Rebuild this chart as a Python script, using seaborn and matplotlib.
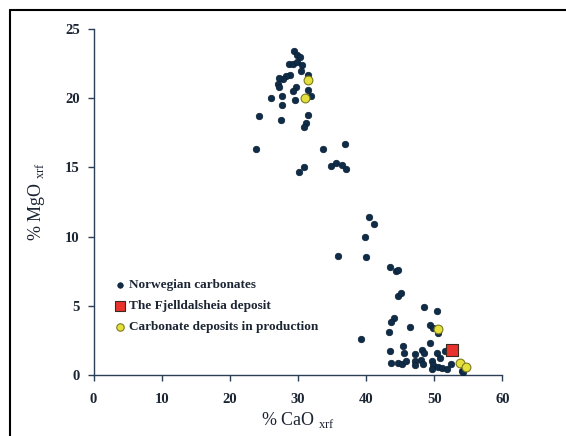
import matplotlib
matplotlib.use("Agg")
import matplotlib.pyplot as plt
import seaborn as sns
import pandas as pd

# Norwegian carbonates (CaO, MgO in %)
norw_cao = [29.4, 29.9, 30.3, 28.7, 29.3, 29.9, 30.6, 30.5, 31.5, 28.8, 28.3, 27.8,
            27.2, 27.1, 27.2, 29.7, 29.3, 31.5, 31.9, 26.0, 27.7, 29.5, 27.7, 24.3,
            27.5, 31.4, 31.2, 30.9, 23.8, 33.6, 36.9, 34.9, 35.5, 36.5, 37.1, 30.2,
            30.8,
            40.4, 41.2, 39.8, 35.9, 39.9, 43.5, 44.4, 44.7, 44.7, 45.1, 48.5,
            50.4, 44.1, 43.7, 46.5, 49.4, 49.8, 43.4, 50.6, 49.3, 45.4, 43.5, 45.6,
            47.1, 48.2, 48.5, 50.4, 51.5, 50.8, 48.1, 47.1, 43.6, 44.7, 45.2, 45.9,
            47.2, 48.4, 49.6, 49.8, 50.6, 51.1, 51.8, 52.5, 49.6, 54.0, 39.2, 54.2]
norw_mgo = [23.4, 23.1, 23.0, 22.5, 22.5, 22.6, 22.4, 22.0, 21.7, 21.7, 21.6, 21.4,
            21.5, 21.0, 20.8, 20.8, 20.5, 20.6, 20.2, 20.0, 20.2, 19.9, 19.5, 18.7,
            18.4, 18.8, 18.2, 17.9, 16.3, 16.3, 16.7, 15.1, 15.3, 15.2, 14.9, 14.7,
            15.0,
            11.4, 10.9, 10.0, 8.6, 8.5, 7.8, 7.5, 7.6, 5.7, 5.9, 4.9,
            4.6, 4.1, 3.8, 3.5, 3.6, 3.4, 3.1, 3.0, 2.3, 2.1, 1.7, 1.6,
            1.5, 1.8, 1.6, 1.6, 1.7, 1.2, 1.1, 1.0, 0.9, 0.9, 0.8, 1.0,
            0.7, 0.8, 1.0, 0.7, 0.6, 0.5, 0.4, 0.8, 0.4, 0.3, 2.6, 0.2]

# Fjelldalsheia deposit
fj_cao = [52.6]
fj_mgo = [1.8]

# carbonate deposits in production
prod_cao = [31.5, 31.0, 50.5, 53.8, 54.6]
prod_mgo = [21.3, 20.0, 3.3, 0.9, 0.6]

sns.set_theme(style="white")
plt.rcParams["font.family"] = ["Liberation Serif", "DejaVu Serif"]
ink = "#1c2533"

fig = plt.figure(figsize=(5.66, 4.36), dpi=100)
ax = fig.add_axes([0.1654, 0.140, 0.7224, 0.7932])

df_n = pd.DataFrame({"cao": norw_cao, "mgo": norw_mgo})
df_f = pd.DataFrame({"cao": fj_cao, "mgo": fj_mgo})
df_p = pd.DataFrame({"cao": prod_cao, "mgo": prod_mgo})

sns.scatterplot(data=df_n, x="cao", y="mgo", ax=ax, color="#0f2c48", s=22,
                edgecolor="#0a1f33", linewidth=0.5, label="Norwegian carbonates", zorder=3)
sns.scatterplot(data=df_f, x="cao", y="mgo", ax=ax, color="#e8322c", marker="s", s=70,
                edgecolor="#3a2a20", linewidth=0.8, label="The Fjelldalsheia deposit", zorder=4)
sns.scatterplot(data=df_p, x="cao", y="mgo", ax=ax, color="#e6e03c", s=40,
                edgecolor="#7a7a20", linewidth=0.8, label="Carbonate deposits in production", zorder=5)

ax.set_xlim(0, 60)
ax.set_ylim(0, 25)
ax.set_xticks(range(0, 61, 10))
ax.set_yticks(range(0, 26, 5))
sns.despine(ax=ax)
for sp in ["left", "bottom"]:
    ax.spines[sp].set_color("#2a3f55")
    ax.spines[sp].set_linewidth(1.0)
ax.tick_params(axis="both", direction="out", length=4, width=1.0, color="#2a3f55",
               labelsize=10.5, labelcolor=ink, left=True, bottom=True)
ax.tick_params(axis="x", pad=9)
ax.tick_params(axis="y", pad=6)
for lab in ax.get_xticklabels() + ax.get_yticklabels():
    lab.set_fontweight("bold")

ax.set_xlabel(r"% CaO $_{\mathregular{xrf}}$", fontsize=13, color=ink, labelpad=3)
ax.set_ylabel(r"% MgO $_{\mathregular{xrf}}$", fontsize=13, color=ink, labelpad=13)

leg = ax.legend(loc="lower left", bbox_to_anchor=(0.039, 0.105), frameon=False,
                prop={"size": 9.5, "weight": "bold"}, handletextpad=0.28,
                labelspacing=0.66, borderaxespad=0, handlelength=0.8, markerscale=0.85)
for t in leg.get_texts():
    t.set_color(ink)

# outer frame (left and top edges visible)
fig.add_artist(plt.Line2D([0.0177, 0.0177], [0.0, 0.977], color="black", lw=1.5,
                          transform=fig.transFigure))
fig.add_artist(plt.Line2D([0.0177, 1.0], [0.977, 0.977], color="black", lw=1.5,
                          transform=fig.transFigure))

fig.savefig("out.png", dpi=100)
